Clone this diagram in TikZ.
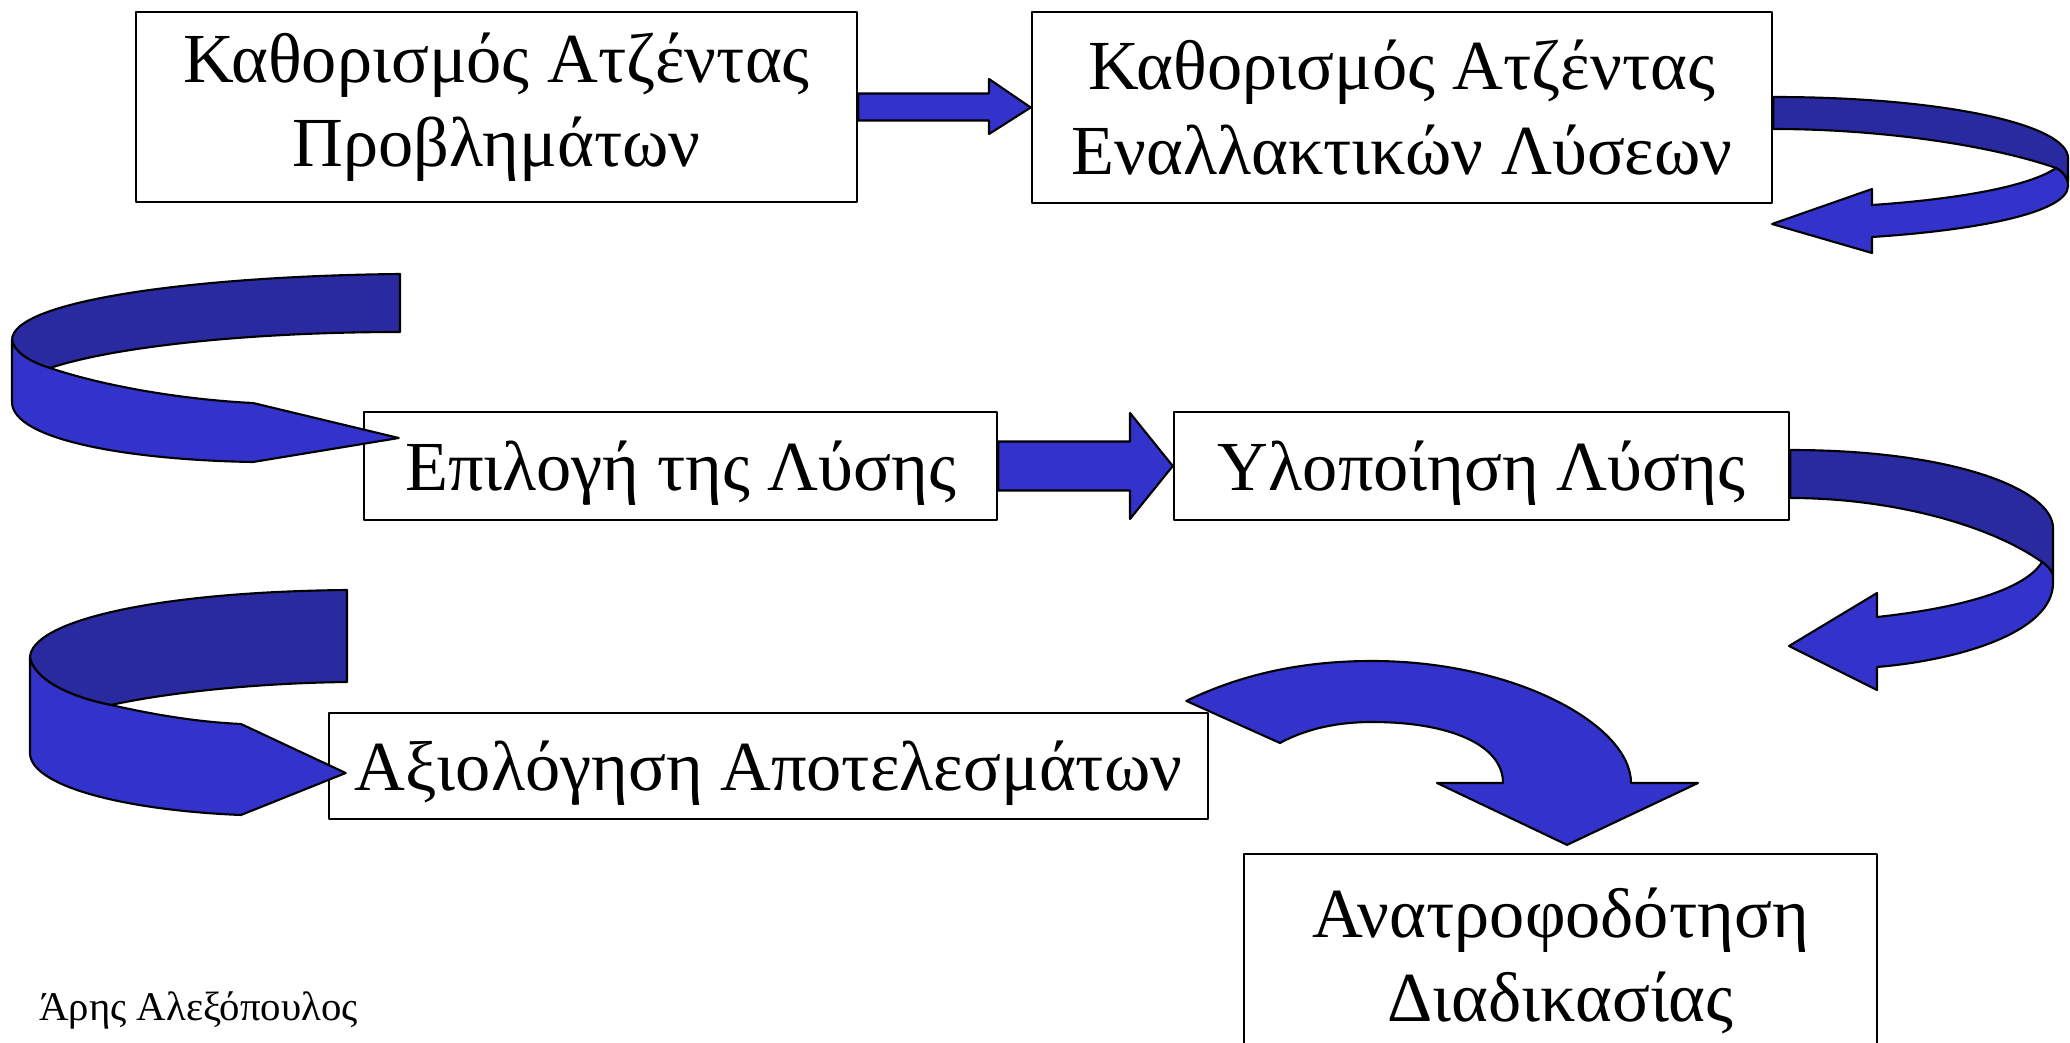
\documentclass[tikz,border=0pt]{standalone}
\usepackage{fontspec}
\setmainfont{Liberation Serif}
\usetikzlibrary{calc}
\definecolor{bandfront}{RGB}{51,51,204}
\definecolor{bandback}{RGB}{42,42,160}

\begin{document}
\begin{tikzpicture}
	[x=0.01cm, y=-0.01cm, line join=round,
	stage/.style	= {rectangle, draw, fill=white, line width=0.6pt, inner sep=0pt, align=center, font=\fontsize{20}{24}\selectfont},
	oneline/.style	= {text height=18pt, text depth=4.3pt},
	fatarrow/.style	= {draw, fill=bandfront, line width=0.6pt},
	backband/.style	= {draw, fill=bandback, line width=0.6pt},
	frontband/.style	= {draw, fill=bandfront, line width=0.6pt}]
	
	\useasboundingbox (0, 0) rectangle (2070, 1043);
	\clip (0, 0) rectangle (2070, 1043);
	
	\node at (496.5, 107)	[stage, minimum width=7.21cm, minimum height=1.90cm]	(problems)	{Καθορισμός Ατζέντας\\Προβλημάτων};
	\node at (1402, 107.5)	[stage, minimum width=7.40cm, minimum height=1.91cm]	(solutions)	{Καθορισμός Ατζέντας\\Εναλλακτικών Λύσεων};
	\node at (680.5, 466)	[stage, oneline, minimum width=6.33cm, minimum height=1.08cm]	(choice)	{Επιλογή της Λύσης};
	\node at (1481.5, 466)	[stage, oneline, minimum width=6.15cm, minimum height=1.08cm]	(implement)	{Υλοποίηση Λύσης};
	\node at (768.5, 766)	[stage, oneline, minimum width=8.79cm, minimum height=1.06cm]	(evaluation)	{Αξιολόγηση Αποτελεσμάτων};
	\node at (1560.5, 961)	[stage, minimum width=6.33cm, minimum height=2.14cm]	(feedback)	{Ανατροφοδότηση\\Διαδικασίας};
	
	\node at (198.5, 1020) [anchor=base, font=\fontsize{11.6}{14}\selectfont] (author) {Άρης Αλεξόπουλος};
	
	\coordinate (tipA) at (1772, 224);
	\coordinate (tipC) at (1789, 646);
	
	% straight arrows
	\filldraw [fatarrow] ($(problems.east)+(0,-13.5)$) -- (989, 93.5) -- (989, 79) -- (solutions.west) -- (989, 134) -- (989, 120.5) -- ($(problems.east)+(0,13.5)$) -- cycle;
	\filldraw [fatarrow] ($(choice.east)+(0,-24.5)$) -- (1130, 441.5) -- (1130, 413) -- (implement.west) -- (1130, 519) -- (1130, 490.5) -- ($(choice.east)+(0,24.5)$) -- cycle;
	
	% loop from the second box back to the left
	\filldraw [backband] ($(solutions.east)+(0,-10.5)$) .. controls (1945, 97) and (2068, 125) .. (2068, 158) -- (2068, 182) .. controls (2066, 176) and (2062, 171) .. (2056, 168) .. controls (1990, 145) and (1880, 129) .. ($(solutions.east)+(0,21.5)$) -- cycle;
	\filldraw [frontband] (2056, 168) .. controls (2063, 172) and (2068, 178) .. (2068, 186) .. controls (2068, 212) and (1980, 230) .. (1872, 237) -- (1872, 253) -- (tipA) -- (1872, 189) -- (1872, 205) .. controls (1960, 199) and (2030, 186) .. (2056, 168) -- cycle;
	
	% loop into the third box
	\filldraw [backband] (400, 274) .. controls (200, 276) and (12, 300) .. (12, 340) .. controls (14, 352) and (30, 362) .. (50, 368) .. controls (120, 345) and (260, 332) .. (400, 332) -- cycle;
	\filldraw [frontband] (12, 340) .. controls (14, 352) and (30, 362) .. (50, 368) .. controls (110, 388) and (190, 400) .. (253, 403) -- ($(choice.west)+(36,-28)$) -- (253, 462) .. controls (130, 460) and (12, 440) .. (12, 402) -- cycle;
	
	% loop from the fourth box
	\filldraw [backband] ($(implement.east)+(0,-16)$) .. controls (1955, 450) and (2053, 490) .. (2053, 528) -- (2053, 575) .. controls (2051, 570) and (2047, 565) .. (2042, 562) .. controls (1985, 522) and (1885, 498) .. ($(implement.east)+(0,32)$) -- cycle;
	\filldraw [frontband] (2042, 562) .. controls (2047, 565) and (2051, 570) .. (2053, 575) -- (2053, 583) .. controls (2053, 632) and (1960, 660) .. (1877, 667) -- (1877, 690) -- (tipC) -- (1877, 593) -- (1877, 617) .. controls (1960, 608) and (2025, 590) .. (2042, 562) -- cycle;
	
	% loop into the fifth box
	\filldraw [backband] (347, 590) .. controls (150, 592) and (30, 622) .. (30, 658) .. controls (35, 680) and (70, 697) .. (111, 705) .. controls (170, 692) and (260, 683) .. (347, 682) -- cycle;
	\filldraw [frontband] (30, 658) .. controls (35, 680) and (70, 697) .. (111, 705) .. controls (160, 716) and (200, 722) .. (241, 724) -- ($(evaluation.west)+(18,7)$) -- (241, 815) .. controls (120, 810) and (30, 785) .. (30, 753) -- cycle;
	
	% turn down to the feedback box
	\filldraw [fatarrow] ($(evaluation.north east)+(-23,-11)$) .. controls (1240, 675) and (1300, 661) .. (1372, 661) .. controls (1515, 661) and (1631, 725) .. (1631, 783) -- (1698, 783) -- ($(feedback.north)+(6.5,-8)$) -- (1437, 783) -- (1503, 783) .. controls (1503, 745) and (1450, 722) .. (1372, 722) .. controls (1330, 722) and (1300, 732) .. (1280, 743) -- cycle;
\end{tikzpicture}
\end{document}
